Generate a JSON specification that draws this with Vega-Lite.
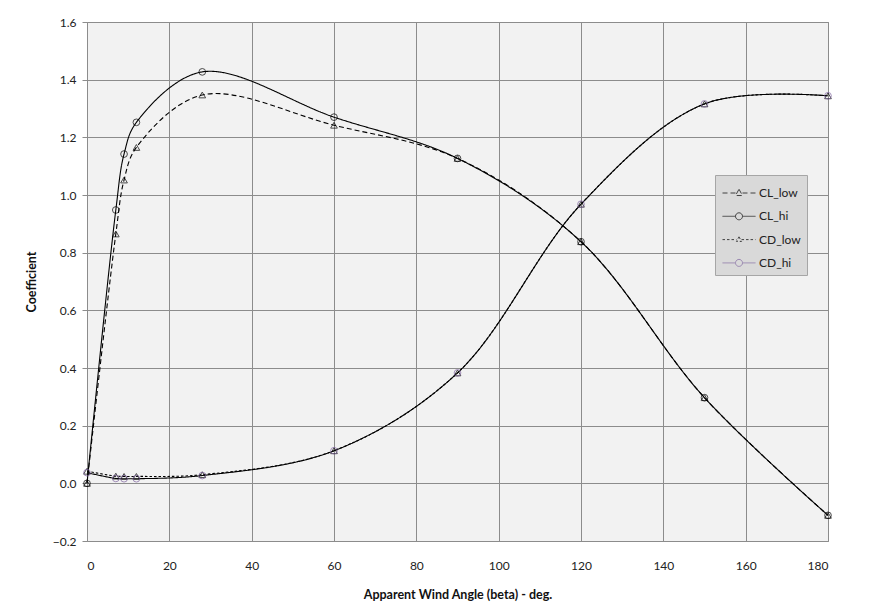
{
  "$schema": "https://vega.github.io/schema/vega-lite/v6.json",
  "autosize": {"type": "none"},
  "padding": {"left": 87, "top": 22, "right": 52, "bottom": 74},
  "width": 741,
  "height": 519,
  "background": "white",
  "config": {
    "font": "Lato",
    "view": {"fill": "#f2f2f2", "stroke": "#8c8c8c", "strokeWidth": 1},
    "axis": {
      "gridColor": "#8c8c8c", "gridOpacity": 1, "gridWidth": 1,
      "domain": false, "tickColor": "#8c8c8c", "tickSize": 5,
      "labelColor": "#222", "labelFontSize": 12, "labelFont": "Lato",
      "titleFont": "Lato", "titleFontSize": 12.5, "titleFontWeight": "bold", "titleColor": "#111"
    },
    "legend": {
      "fillColor": "#d9d9d9", "strokeColor": "#a6a6a6", "padding": 6,
      "labelFont": "Lato", "labelFontSize": 12, "labelColor": "#222",
      "rowPadding": 5.3, "symbolStrokeWidth": 1, "labelOffset": 14, "symbolSize": 529
    }
  },
  "data": {"values": [
    {"series": "CL_low", "angle": 0, "value": 0},
    {"series": "CL_low", "angle": 7, "value": 0.865},
    {"series": "CL_low", "angle": 9, "value": 1.052},
    {"series": "CL_low", "angle": 12, "value": 1.165},
    {"series": "CL_low", "angle": 28, "value": 1.347},
    {"series": "CL_low", "angle": 60, "value": 1.242},
    {"series": "CL_low", "angle": 90, "value": 1.127},
    {"series": "CL_low", "angle": 120, "value": 0.838},
    {"series": "CL_low", "angle": 150, "value": 0.297},
    {"series": "CL_low", "angle": 180, "value": -0.111},
    {"series": "CL_hi", "angle": 0, "value": 0},
    {"series": "CL_hi", "angle": 7, "value": 0.948},
    {"series": "CL_hi", "angle": 9, "value": 1.142},
    {"series": "CL_hi", "angle": 12, "value": 1.252},
    {"series": "CL_hi", "angle": 28, "value": 1.427},
    {"series": "CL_hi", "angle": 60, "value": 1.27},
    {"series": "CL_hi", "angle": 90, "value": 1.127},
    {"series": "CL_hi", "angle": 120, "value": 0.838},
    {"series": "CL_hi", "angle": 150, "value": 0.297},
    {"series": "CL_hi", "angle": 180, "value": -0.111},
    {"series": "CD_low", "angle": 0, "value": 0.042},
    {"series": "CD_low", "angle": 7, "value": 0.025},
    {"series": "CD_low", "angle": 9, "value": 0.024},
    {"series": "CD_low", "angle": 12, "value": 0.024},
    {"series": "CD_low", "angle": 28, "value": 0.03},
    {"series": "CD_low", "angle": 60, "value": 0.113},
    {"series": "CD_low", "angle": 90, "value": 0.383},
    {"series": "CD_low", "angle": 120, "value": 0.968},
    {"series": "CD_low", "angle": 150, "value": 1.316},
    {"series": "CD_low", "angle": 180, "value": 1.344},
    {"series": "CD_hi", "angle": 0, "value": 0.037},
    {"series": "CD_hi", "angle": 7, "value": 0.017},
    {"series": "CD_hi", "angle": 9, "value": 0.016},
    {"series": "CD_hi", "angle": 12, "value": 0.016},
    {"series": "CD_hi", "angle": 28, "value": 0.027},
    {"series": "CD_hi", "angle": 60, "value": 0.113},
    {"series": "CD_hi", "angle": 90, "value": 0.383},
    {"series": "CD_hi", "angle": 120, "value": 0.968},
    {"series": "CD_hi", "angle": 150, "value": 1.316},
    {"series": "CD_hi", "angle": 180, "value": 1.344}
  ]},
  "encoding": {
    "x": {"field": "angle", "type": "quantitative", "title": "Apparent Wind Angle (beta) - deg.",
      "scale": {"domain": [0, 180], "nice": false},
      "axis": {"values": [0,20,40,60,80,100,120,140,160,180], "ticks": false, "labelPadding": 19, "titlePadding": 17}},
    "y": {"field": "value", "type": "quantitative", "title": "Coefficient",
      "scale": {"domain": [-0.2, 1.6], "nice": false},
      "axis": {"values": [-0.2,0,0.2,0.4,0.6,0.8,1.0,1.2,1.4,1.6], "format": ".1f", "labelPadding": 6, "titlePadding": 14}}
  },
  "resolve": {"scale": {"shape": "independent", "stroke": "independent", "strokeDash": "independent", "size": "independent"}},
  "layer": [
    {
      "mark": {"type": "line", "interpolate": "catmull-rom", "color": "black", "strokeWidth": 1.1},
      "encoding": {
        "detail": {"field": "series"},
        "strokeDash": {"field": "series", "type": "nominal",
          "scale": {"domain": ["CL_low", "CL_hi", "CD_low", "CD_hi"], "range": [[5,3],[1,0],[2.5,2],[1,0]]},
          "legend": null}
      }
    },
    {
      "mark": {"type": "point", "filled": false, "strokeWidth": 1},
      "encoding": {
        "shape": {"field": "series", "type": "nominal",
          "scale": {"domain": ["CL_low", "CL_hi", "CD_low", "CD_hi"], "range": ["triangle-up", "circle", "triangle-up", "circle"]},
          "legend": null},
        "stroke": {"field": "series", "type": "nominal",
          "scale": {"domain": ["CL_low", "CL_hi", "CD_low", "CD_hi"], "range": ["black", "black", "black", "#7f64a0"]},
          "legend": null},
        "size": {"field": "series", "type": "nominal",
          "scale": {"domain": ["CL_low", "CL_hi", "CD_low", "CD_hi"], "range": [45, 45, 18, 40]}, "legend": null}
      }
    },
    {
      "transform": [{"filter": "datum.angle < -1000"}],
      "mark": {"type": "point", "filled": false, "strokeWidth": 1, "size": 529},
      "encoding": {
        "shape": {"field": "series", "type": "nominal",
          "scale": {"domain": ["CL_low", "CL_hi", "CD_low", "CD_hi"], "range": [
            "M-0.913,0H0.218M0.826,0H1.956M0.522,-0.33L0.826,0.22L0.218,0.22Z",
            "M-0.913,0H0.218M0.826,0H1.956M0.826,0A0.304,0.304 0 1,1 0.218,0A0.304,0.304 0 1,1 0.826,0",
            "M-0.913,0H0.302M0.742,0H1.956M0.522,-0.24L0.742,0.16L0.302,0.16Z",
            "M-0.913,0H0.218M0.826,0H1.956M0.826,0A0.304,0.304 0 1,1 0.218,0A0.304,0.304 0 1,1 0.826,0"]},
          "legend": {"title": null, "orient": "none", "legendX": 628, "legendY": 153}},
        "stroke": {"field": "series", "type": "nominal",
          "scale": {"domain": ["CL_low", "CL_hi", "CD_low", "CD_hi"], "range": ["black", "black", "black", "#7f64a0"]},
          "legend": {"title": null, "orient": "none", "legendX": 628, "legendY": 153}},
        "strokeDash": {"field": "series", "type": "nominal",
          "scale": {"domain": ["CL_low", "CL_hi", "CD_low", "CD_hi"], "range": [[5,3],[1,0],[2.5,2],[1,0]]},
          "legend": {"title": null, "orient": "none", "legendX": 628, "legendY": 153}}
      }
    }
  ]
}
